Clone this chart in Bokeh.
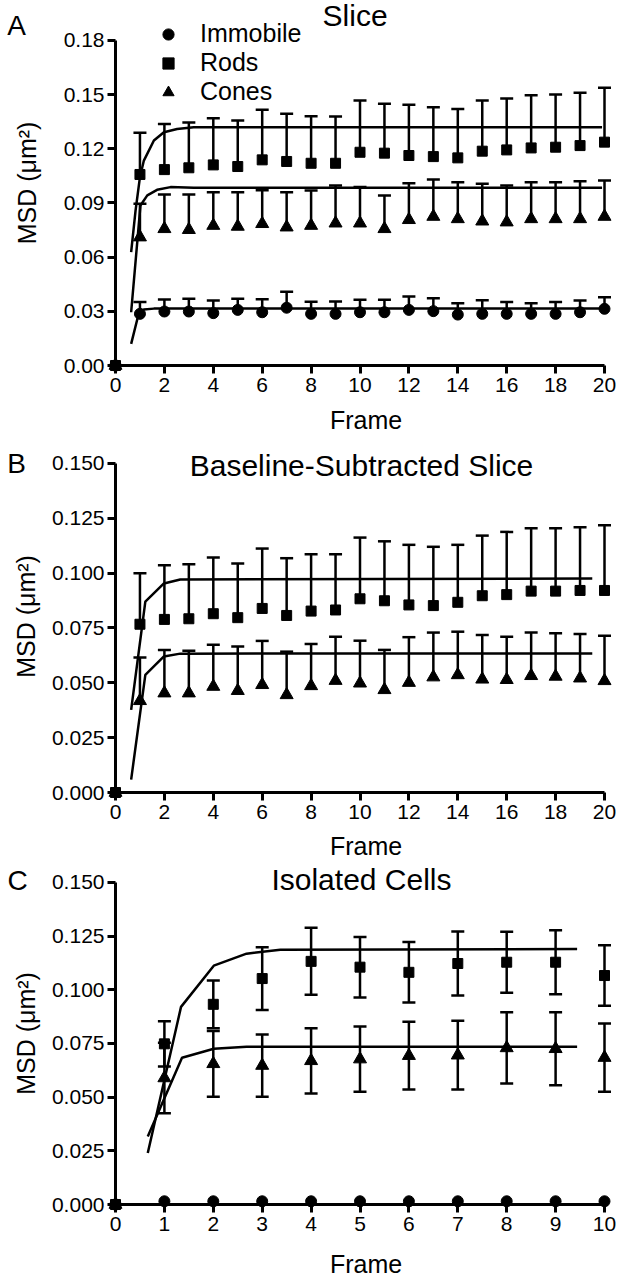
import math
from bokeh.plotting import figure
from bokeh.models import (Range1d, FixedTicker, NumeralTickFormatter, Whisker, TeeHead,
                          ColumnDataSource, Label, Legend, LegendItem)
from bokeh.core.properties import value
from bokeh.layouts import column
from bokeh.embed import file_html
from bokeh.resources import INLINE

FONT = "Liberation Sans"

# ---------------- Panel A: Slice ----------------
a_title = "Slice"
a_frames = list(range(21))
a_immobile = [0, 0.0286, 0.0299, 0.0299, 0.0290, 0.0308, 0.0295, 0.0320, 0.0286, 0.0286, 0.0295,
              0.0295, 0.0308, 0.0301, 0.0282, 0.0286, 0.0286, 0.0286, 0.0286, 0.0295, 0.0314]
a_immobile_err = [0, 0.0065, 0.0067, 0.0070, 0.0070, 0.0061, 0.0072, 0.0088, 0.0067, 0.0069, 0.0069,
                  0.0069, 0.0074, 0.0072, 0.0063, 0.0076, 0.0065, 0.0059, 0.0065, 0.0065, 0.0064]
a_rods = [0, 0.1058, 0.1085, 0.1095, 0.1111, 0.1102, 0.1139, 0.1130, 0.1120, 0.1120, 0.1181,
          0.1176, 0.1163, 0.1157, 0.1150, 0.1187, 0.1194, 0.1205, 0.1209, 0.1218, 0.1237]
a_rods_err = [0, 0.0231, 0.0253, 0.0251, 0.0259, 0.0255, 0.0277, 0.0264, 0.0261, 0.0259, 0.0287,
              0.0273, 0.0281, 0.0273, 0.0270, 0.0281, 0.0285, 0.0292, 0.0292, 0.0292, 0.0301]
a_cones = [0, 0.0711, 0.0757, 0.0752, 0.0775, 0.0770, 0.0785, 0.0766, 0.0775, 0.0788, 0.0788,
           0.0757, 0.0807, 0.0825, 0.0812, 0.0799, 0.0794, 0.0812, 0.0812, 0.0812, 0.0825]
a_cones_err = [0, 0.0185, 0.0190, 0.0195, 0.0185, 0.0190, 0.0185, 0.0194, 0.0194, 0.0209, 0.0200,
               0.0185, 0.0203, 0.0205, 0.0203, 0.0207, 0.0203, 0.0203, 0.0203, 0.0209, 0.0200]
a_fit_rods_x = [0.64, 0.82, 1.0, 1.16, 1.57, 1.98, 2.52, 3.2, 19.9]
a_fit_rods_y = [0.0628, 0.0858, 0.1043, 0.1135, 0.1246, 0.1292, 0.1310, 0.1320, 0.1320]
a_fit_cones_x = [0.64, 1.02, 1.30, 1.70, 2.25, 3.2, 19.9]
a_fit_cones_y = [0.0295, 0.0886, 0.0942, 0.0973, 0.0988, 0.0985, 0.0985]
a_fit_imm_x = [0.64, 0.95, 1.16, 1.57, 19.9]
a_fit_imm_y = [0.0120, 0.0288, 0.0310, 0.0315, 0.0315]
a_yticks = [0, 0.03, 0.06, 0.09, 0.12, 0.15, 0.18]
a_xticks = [0, 2, 4, 6, 8, 10, 12, 14, 16, 18, 20]

# ---------------- Panel B: Baseline-subtracted ----------------
b_title = "Baseline-Subtracted Slice"
b_frames = list(range(21))
b_rods = [0, 0.0767, 0.0789, 0.0792, 0.0815, 0.0797, 0.0839, 0.0807, 0.0827, 0.0832, 0.0883,
          0.0874, 0.0855, 0.0852, 0.0867, 0.0897, 0.0902, 0.0918, 0.0918, 0.0921, 0.0921]
b_rods_err = [0, 0.0232, 0.0247, 0.0249, 0.0256, 0.0247, 0.0273, 0.0261, 0.0259, 0.0254, 0.0279,
              0.0271, 0.0274, 0.0268, 0.0262, 0.0274, 0.0286, 0.0287, 0.0287, 0.0288, 0.0297]
b_cones = [0, 0.0418, 0.0453, 0.0453, 0.0483, 0.0464, 0.0491, 0.0445, 0.0486, 0.0510, 0.0498,
           0.0468, 0.0501, 0.0526, 0.0536, 0.0516, 0.0514, 0.0532, 0.0529, 0.0521, 0.0509]
b_cones_err = [0, 0.0197, 0.0197, 0.0193, 0.0190, 0.0201, 0.0200, 0.0197, 0.0191, 0.0200, 0.0194,
               0.0182, 0.0207, 0.0203, 0.0197, 0.0202, 0.0196, 0.0197, 0.0197, 0.0202, 0.0206]
b_fit_rods_x = [0.64, 1.22, 1.98, 2.65, 19.5]
b_fit_rods_y = [0.0377, 0.0870, 0.0953, 0.0971, 0.0975]
b_fit_cones_x = [0.64, 1.22, 1.98, 2.65, 19.5]
b_fit_cones_y = [0.0059, 0.0536, 0.0620, 0.0633, 0.0634]
b_yticks = [0, 0.025, 0.05, 0.075, 0.1, 0.125, 0.15]
b_xticks = [0, 2, 4, 6, 8, 10, 12, 14, 16, 18, 20]

# ---------------- Panel C: Isolated cells ----------------
c_title = "Isolated Cells"
c_frames = list(range(11))
c_immobile = [0, 0.0015, 0.0015, 0.0015, 0.0015, 0.0015, 0.0015, 0.0015, 0.0015, 0.0015, 0.0015]
c_rods = [0, 0.0748, 0.0932, 0.1052, 0.1132, 0.1105, 0.1081, 0.1122, 0.1128, 0.1128, 0.1066]
c_rods_err = [0, 0.0105, 0.0111, 0.0146, 0.0156, 0.0141, 0.0141, 0.0149, 0.0142, 0.0149, 0.0141]
c_cones = [0, 0.0589, 0.0655, 0.0647, 0.0669, 0.0677, 0.0693, 0.0695, 0.0729, 0.0725, 0.0684]
c_cones_err = [0, 0.0164, 0.0153, 0.0145, 0.0152, 0.0152, 0.0158, 0.0160, 0.0166, 0.0170, 0.0159]
c_fit_rods_x = [0.66, 1.34, 2.01, 2.68, 3.37, 9.44]
c_fit_rods_y = [0.0240, 0.0920, 0.1112, 0.1168, 0.1186, 0.1189]
c_fit_cones_x = [0.66, 1.36, 2.01, 2.68, 9.44]
c_fit_cones_y = [0.0317, 0.0683, 0.0725, 0.0735, 0.0735]
c_yticks = [0, 0.025, 0.05, 0.075, 0.1, 0.125, 0.15]
c_xticks = list(range(11))

panel_letters = ["A", "B", "C"]
series_names = ["Immobile", "Rods", "Cones"]
markers = {"Immobile": ("circle", 11), "Rods": ("square", 10), "Cones": ("triangle", 13)}
Y_LABEL = "MSD (\u03bcm\u00b2)"


def make_panel(height, x_bound, x_end, y_end, y_top, yticks, xticks, yfmt, border_bottom,
               ylabel_standoff, xlabel_standoff):
    p = figure(width=618, height=height, x_range=Range1d(0, x_end), y_range=Range1d(0, y_end),
               output_backend="svg", toolbar_location=None,
               min_border_left=115, min_border_right=2, min_border_top=0,
               min_border_bottom=border_bottom)
    p.outline_line_color = None
    p.grid.visible = False
    p.background_fill_color = "white"
    for ax in (p.xaxis[0], p.yaxis[0]):
        ax.axis_line_width = 3
        ax.axis_line_color = "black"
        ax.major_tick_line_width = 3
        ax.major_tick_line_color = "black"
        ax.major_tick_out = 8
        ax.major_tick_in = 0
        ax.minor_tick_out = 0
        ax.minor_tick_in = 0
        ax.major_label_text_font = FONT
        ax.major_label_text_font_size = "21px"
        ax.major_label_text_color = "black"
        ax.axis_label_text_font = FONT
        ax.axis_label_text_font_size = "25px"
        ax.axis_label_text_font_style = "normal"
        ax.axis_label_text_color = "black"
    xa = p.xaxis[0]
    xa.bounds = (0, x_bound)
    xa.ticker = FixedTicker(ticks=xticks)
    xa.major_label_standoff = 4
    xa.axis_label = "Frame"
    xa.axis_label_standoff = xlabel_standoff
    ya = p.yaxis[0]
    ya.bounds = (0, y_top)
    ya.ticker = FixedTicker(ticks=yticks)
    ya.formatter = NumeralTickFormatter(format=yfmt)
    ya.major_label_standoff = 3
    ya.axis_label = Y_LABEL
    ya.axis_label_standoff = ylabel_standoff
    return p


def add_series(p, frames, vals, errs, name, both_sides):
    data = dict(x=frames, y=vals)
    if errs is not None:
        if both_sides:
            data["lo"] = [v - e for v, e in zip(vals, errs)]
        else:
            data["lo"] = list(vals)
        data["hi"] = [v + e for v, e in zip(vals, errs)]
    src = ColumnDataSource(data)
    if errs is not None:
        w = Whisker(base="x", lower="lo", upper="hi", source=src, dimension="height",
                    line_width=2.5, line_color="black",
                    upper_head=TeeHead(size=13, line_width=2.5, line_color="black"),
                    lower_head=TeeHead(size=13, line_width=2.5, line_color="black") if both_sides else None)
        p.add_layout(w)
    m, s = markers[name]
    r = p.scatter("x", "y", source=src, marker=m, size=s, fill_color="black", line_color="black",
                  level="annotation")
    return r


def add_fit(p, xs, ys):
    p.line(xs, ys, line_color="black", line_width=2.5)


def add_texts(p, letter, lx, ly, title, tx, ty):
    # panel letter: a text glyph on the annotation level (not clipped to the frame)
    p.text(x=[lx], y=[ly], text=[letter], text_font=value(FONT), text_font_size=value("28px"),
           text_align="center", text_baseline="middle", text_color="black", level="annotation")
    p.add_layout(Label(x=tx, y=ty, text=title, text_font=FONT, text_font_size="30px",
                       text_align="center", text_baseline="middle", text_color="black"))


# ---- Panel A ---- (0 at y=365, 0.18 at y=40, frame top at 0)
pA = make_panel(440, 20, 20 + 12 / 24.45, 0.18 + 40 / 1805.6, 0.18, a_yticks, a_xticks, "0.00",
                75, 20, 11)
add_fit(pA, a_fit_imm_x, a_fit_imm_y)
add_fit(pA, a_fit_rods_x, a_fit_rods_y)
add_fit(pA, a_fit_cones_x, a_fit_cones_y)
rA_imm = add_series(pA, a_frames, a_immobile, a_immobile_err, "Immobile", False)
rA_cones = add_series(pA, a_frames, a_cones, a_cones_err, "Cones", False)
rA_rods = add_series(pA, a_frames, a_rods, a_rods_err, "Rods", False)
add_texts(pA, panel_letters[0], -99 / 24.45, (365 - 25) / 1805.6, a_title, 9.8, 0.18 + 25 / 1805.6)
legend = Legend(items=[LegendItem(label=series_names[0], renderers=[rA_imm]),
                       LegendItem(label=series_names[1], renderers=[rA_rods]),
                       LegendItem(label=series_names[2], renderers=[rA_cones])],
                location=(39, 259), padding=0, margin=0, spacing=0,
                glyph_width=28, glyph_height=28, label_height=28, label_standoff=18,
                label_text_font=FONT, label_text_font_size="25px",
                label_text_color="black", label_text_baseline="middle",
                background_fill_alpha=0, border_line_color=None)
pA.add_layout(legend)

# ---- Panel B ---- (frame top at 440, 0.150 at 463, 0 at 793)
pB = make_panel(422, 20, 20 + 12 / 24.45, 0.15 + 23 / 2200, 0.15, b_yticks, b_xticks, "0.000",
                69, 9, 10)
add_fit(pB, b_fit_rods_x, b_fit_rods_y)
add_fit(pB, b_fit_cones_x, b_fit_cones_y)
add_series(pB, b_frames, b_cones, b_cones_err, "Cones", False)
add_series(pB, b_frames, b_rods, b_rods_err, "Rods", False)
add_texts(pB, panel_letters[1], -99 / 24.45, 330 / 2200, b_title, 10.06, 0.1491)

# ---- Panel C ---- (frame top at 862, 0.150 at 882, 0 at 1207)
pC = make_panel(418, 10, 10 + 12 / 48.9, 0.15 + 20 / 2166.7, 0.15, c_yticks, c_xticks, "0.000",
                73, 9, 16)
add_fit(pC, c_fit_rods_x, c_fit_rods_y)
add_fit(pC, c_fit_cones_x, c_fit_cones_y)
add_series(pC, c_frames, c_immobile, None, "Immobile", True)
add_series(pC, c_frames, c_cones, c_cones_err, "Cones", True)
add_series(pC, c_frames, c_rods, c_rods_err, "Rods", True)
add_texts(pC, panel_letters[2], -98 / 48.9, 327 / 2166.7, c_title, 5.03, 0.1514)

layout = column(pA, pB, pC, spacing=0)
open("out.html", "w").write(file_html(layout, INLINE))
